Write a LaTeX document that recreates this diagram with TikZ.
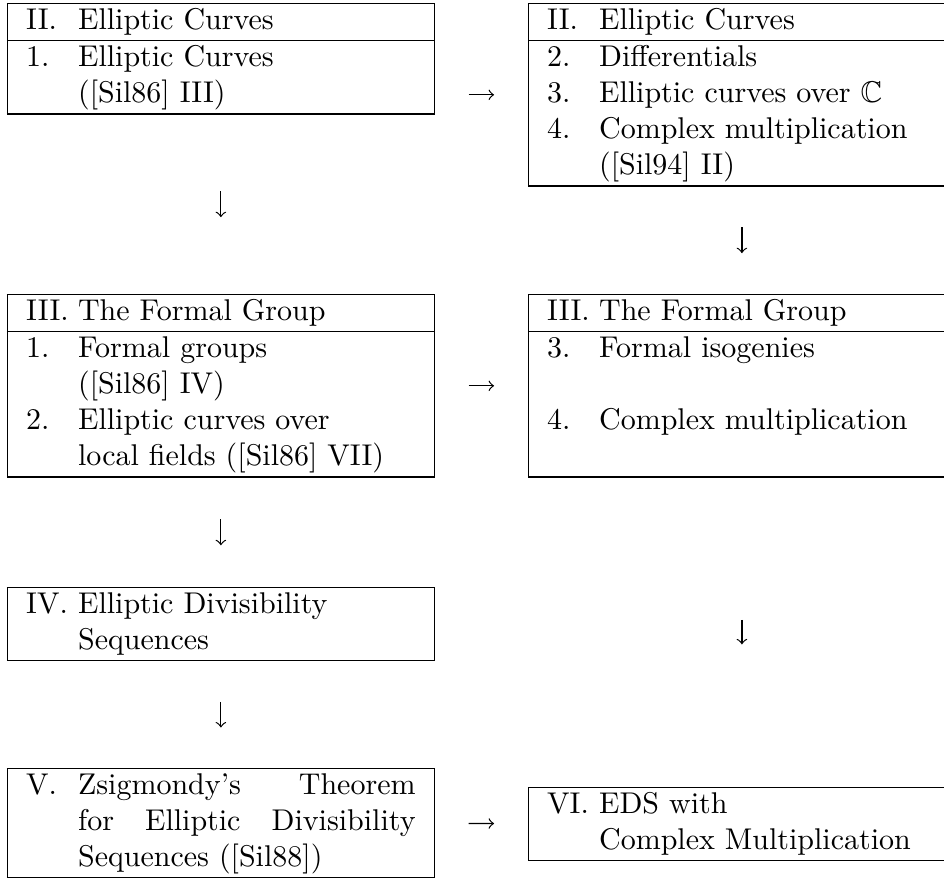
\documentclass[tikz,border=0pt]{standalone}
\usepackage{amssymb}
\usepackage{array}
\tikzset{
  secbox/.style={anchor=north west, inner sep=0pt, outer sep=0pt},
  arrgap/.style={->, shorten <=#1, shorten >=#1}
}
\newcommand{\secrows}[1]{\begin{tabular}{|p{5.3pt}p{112.5pt}|}\hline #1 \\ \hline\end{tabular}}
\begin{document}
\begin{tikzpicture}[x=1pt,y=-1pt]
\useasboundingbox (0,0) rectangle (314.67,293.33);
% chapter boxes
\node[secbox] (b1) at (2.33,1) {\secrows{II. & Elliptic Curves \\ \hline 1. & Elliptic Curves \\ & ([Sil86] III)}};
\node[secbox] (b2) at (176,1) {\secrows{II. & Elliptic Curves \\ \hline 2. & Differentials \\ 3. & Elliptic curves over $\mathbb{C}$ \\ 4. & Complex multiplication \\ & ([Sil94] II)}};
\node[secbox] (b3) at (2.33,98) {\secrows{III. & The Formal Group \\ \hline 1. & Formal groups \\ & ([Sil86] IV) \\ 2. & Elliptic curves over \\ & local fields ([Sil86] VII)}};
\node[secbox] (b4) at (176,98) {\secrows{III. & The Formal Group \\ \hline 3. & Formal isogenies \\ & \\ 4. & Complex multiplication \\ &}};
\node[secbox] (b5) at (2.33,195.67) {\secrows{IV. & Elliptic Divisibility \\ & Sequences}};
\node[secbox] (b6) at (2.33,256) {\secrows{V. & Zsigmondy's \hfill Theorem \\ & for \hfill Elliptic \hfill Divisibility \\ & Sequences ([Sil88])}};
\node[secbox, anchor=west] (b7) at (176,274.6) {\secrows{VI. & EDS with \\ & Complex Multiplication}};
% arrows
\draw[arrgap=11.3pt] (b1.east |- b2.west) -- (b2.west);
\draw[arrgap=25.6pt] (b1) -- (b3);
\draw[arrgap=13.6pt] (b2) -- (b4);
\draw[arrgap=11.3pt] (b3) -- (b4);
\draw[arrgap=13.9pt] (b3) -- (b5);
\draw[arrgap=47.4pt] (b4) -- (b7);
\draw[arrgap=13.5pt] (b5) -- (b6);
\draw[arrgap=11.3pt] (b6) -- (b7);
\end{tikzpicture}
\end{document}
